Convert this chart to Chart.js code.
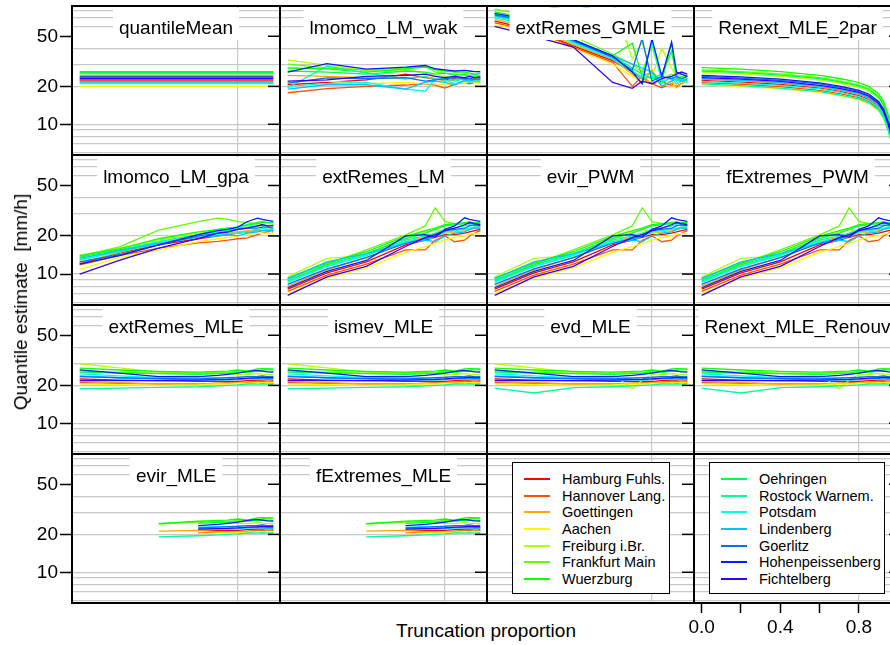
<!DOCTYPE html>
<html>
<head>
<meta charset="utf-8">
<script src="https://cdn.jsdelivr.net/npm/chart.js@4.4.1/dist/chart.umd.min.js"></script>
<style>
  body { margin: 0; width: 890px; height: 645px; overflow: hidden; background: #fff; position: relative;
         font-family: "Liberation Sans", Arial, sans-serif; color: #000; }
  canvas { position: absolute; z-index: 1; }
  .axis-title { position: absolute; z-index: 5; font-size: 19px; white-space: pre; transform: translate(-50%, -50%); }
  .legend { position: absolute; z-index: 5; top: 462px; height: 132px; box-sizing: border-box; border: 1.3px solid #000;
            background: #fff; padding-top: 8px; font-size: 14.5px; }
  .legend div { height: 16.6px; display: flex; align-items: center; white-space: nowrap; }
  .legend span.ln { display: inline-block; width: 26px; height: 2px; margin-left: 11px; margin-right: 12px; }
</style>
</head>
<body>
<div class="axis-title" style="left:486px; top:631px;">Truncation proportion</div>
<div class="axis-title" style="left:21px; top:302px; transform: translate(-50%, -50%) rotate(-90deg);">Quantile estimate  [mm/h]</div>
<div id="legendA" class="legend" style="left:512px; width:158px;"></div>
<div id="legendB" class="legend" style="left:709px; width:176px;"></div>

<script>
// x values (truncation proportion) shared by every series
const truncation = [0, 0.2, 0.4, 0.6, 0.7, 0.75, 0.8, 0.85, 0.9, 0.925, 0.95, 0.98];

const stations = ['Hamburg Fuhls.', 'Hannover Lang.', 'Goettingen', 'Aachen', 'Freiburg i.Br.',
  'Frankfurt Main', 'Wuerzburg', 'Oehringen', 'Rostock Warnem.', 'Potsdam', 'Lindenberg',
  'Goerlitz', 'Hohenpeissenberg', 'Fichtelberg'];
const stationColors = ['#FF0000', '#FF5200', '#FFA500', '#FFF700', '#B4FF00', '#62FF00', '#0FFF00',
  '#00FF43', '#00FF96', '#00FFE8', '#00C4FF', '#0071FF', '#001FFF', '#3400FF'];

const yTicks = [10, 20, 50];
const yGrid = [6, 7, 8, 9, 10, 20, 30, 40, 60, 70, 80];
const xTicks = [0, 0.2, 0.4, 0.6, 0.8, 1.0];
const xTickLabels = ['0.0', '', '0.4', '', '0.8', ''];
const xGrid = [0.8];

// one row per station, one value per truncation proportion
const quantileMean = [
  [22.4, 22.4, 22.4, 22.4, 22.4, 22.4, 22.4, 22.4, 22.4, 22.4, 22.4, 22.4],
  [22.0, 22.0, 22.0, 22.0, 22.0, 22.0, 22.0, 22.0, 22.0, 22.0, 22.0, 22.0],
  [24.3, 24.3, 24.3, 24.3, 24.3, 24.3, 24.3, 24.3, 24.3, 24.3, 24.3, 24.3],
  [20.0, 20.0, 20.0, 20.0, 20.0, 20.0, 20.0, 20.0, 20.0, 20.0, 20.0, 20.0],
  [25.6, 25.6, 25.6, 25.6, 25.6, 25.6, 25.6, 25.6, 25.6, 25.6, 25.6, 25.6],
  [25.2, 25.2, 25.2, 25.2, 25.2, 25.2, 25.2, 25.2, 25.2, 25.2, 25.2, 25.2],
  [26.2, 26.2, 26.2, 26.2, 26.2, 26.2, 26.2, 26.2, 26.2, 26.2, 26.2, 26.2],
  [25.8, 25.8, 25.8, 25.8, 25.8, 25.8, 25.8, 25.8, 25.8, 25.8, 25.8, 25.8],
  [21.2, 21.2, 21.2, 21.2, 21.2, 21.2, 21.2, 21.2, 21.2, 21.2, 21.2, 21.2],
  [21.0, 21.0, 21.0, 21.0, 21.0, 21.0, 21.0, 21.0, 21.0, 21.0, 21.0, 21.0],
  [21.6, 21.6, 21.6, 21.6, 21.6, 21.6, 21.6, 21.6, 21.6, 21.6, 21.6, 21.6],
  [22.8, 22.8, 22.8, 22.8, 22.8, 22.8, 22.8, 22.8, 22.8, 22.8, 22.8, 22.8],
  [23.8, 23.8, 23.8, 23.8, 23.8, 23.8, 23.8, 23.8, 23.8, 23.8, 23.8, 23.8],
  [23.2, 23.2, 23.2, 23.2, 23.2, 23.2, 23.2, 23.2, 23.2, 23.2, 23.2, 23.2]
];

const lmomcoWak = [
  [20.6, 21.5, 22.5, 25.0, 23.5, 23.0, 22.5, 23.0, 23.5, 23.0, 23.5, 23.5],
  [17.8, 19.2, 20.0, 20.5, 21.0, 20.5, 19.4, 20.8, 21.5, 21.0, 21.5, 21.5],
  [24.5, 24.0, 23.5, 23.0, 24.0, 23.0, 22.0, 22.5, 23.0, 22.5, 23.0, 23.2],
  [21.5, 22.0, 21.0, 21.5, 21.0, 21.0, 20.5, 21.0, 21.5, 21.5, 22.0, 22.0],
  [32.3, 29.5, 26.5, 27.0, 25.5, 24.5, 24.0, 23.5, 22.5, 22.0, 21.5, 21.5],
  [30.0, 28.0, 27.0, 28.0, 29.0, 26.0, 25.5, 25.0, 24.5, 24.0, 24.0, 24.0],
  [28.0, 27.5, 26.0, 27.5, 28.5, 27.0, 26.5, 26.0, 26.0, 25.5, 25.0, 25.5],
  [26.5, 26.0, 25.0, 26.5, 26.0, 25.0, 25.5, 24.5, 25.0, 24.5, 24.8, 24.5],
  [19.5, 29.0, 25.5, 23.0, 24.0, 22.5, 23.5, 22.0, 23.0, 22.5, 22.5, 22.5],
  [20.0, 21.0, 21.5, 19.0, 18.3, 23.0, 22.5, 21.0, 22.0, 21.5, 22.0, 21.8],
  [19.0, 20.6, 20.6, 19.0, 21.6, 22.0, 21.5, 20.5, 22.5, 22.0, 22.5, 22.5],
  [21.2, 23.4, 23.0, 23.5, 22.0, 22.5, 23.0, 23.5, 23.0, 23.0, 22.8, 22.9],
  [26.0, 30.3, 27.4, 28.4, 29.3, 27.6, 27.0, 26.5, 26.8, 26.5, 26.2, 26.2],
  [22.0, 22.5, 24.0, 24.5, 25.0, 24.0, 23.5, 24.0, 23.5, 24.0, 23.5, 23.8]
];

const extRemesGMLE = [
  [66, 56, 42, 32, 26, 23, 21, 22, 20, 21, 22, 23],
  [64, 55, 41, 31, 20, 24, 21, 19.5, 21, 20, 21, 22],
  [68, 58, 43, 33, 25, 21, 27, 20, 22, 19.5, 21, 22.5],
  [62, 54, 40, 30, 24, 22, 22, 21, 20, 21, 22, 21.5],
  [95, 90, 80, 95, 33, 45, 24, 40, 28, 24, 23, 24],
  [82, 72, 50, 36, 30, 26, 42, 23, 25, 24, 25, 24],
  [78, 68, 47, 35, 44, 24, 26, 22, 44, 23, 24, 23],
  [75, 66, 46, 35, 28, 25, 23, 25, 38, 24, 23, 24.5],
  [72, 62, 45, 33, 27, 23, 24, 21, 24, 22, 23, 22],
  [70, 61, 44, 33, 26, 24, 45, 22, 23, 21, 22, 21.5],
  [73, 64, 46, 35, 30, 28, 26, 20, 22, 23, 22, 23],
  [74, 65, 46, 34, 27, 48, 22, 24, 23, 24, 23, 24],
  [76, 67, 47, 35, 26, 21, 48, 24, 45, 26, 25, 24],
  [60, 50, 41, 21.5, 19.3, 22, 21, 23, 24, 25, 26, 25]
];

const renext2par = [
  [22.3, 21.6, 20.7, 19.4, 18.3, 17.6, 16.9, 15.8, 13.8, 12.0, 9.4, 6.2],
  [21.4, 20.8, 19.9, 18.6, 17.5, 16.9, 16.3, 15.2, 13.3, 11.6, 9.0, 6.0],
  [22.8, 22.1, 21.2, 19.8, 18.7, 18.0, 17.3, 16.2, 14.1, 12.3, 9.6, 6.4],
  [20.6, 20.0, 19.2, 17.9, 16.9, 16.3, 15.7, 14.6, 12.8, 11.1, 8.7, 5.8],
  [25.8, 25.0, 24.0, 22.4, 21.2, 20.4, 19.6, 18.3, 16.0, 13.9, 10.8, 7.2],
  [27.0, 26.2, 25.1, 23.5, 22.1, 21.3, 20.5, 19.2, 16.7, 14.6, 11.3, 7.6],
  [28.2, 27.4, 26.2, 24.5, 23.1, 22.3, 21.4, 20.0, 17.5, 15.2, 11.8, 7.9],
  [26.5, 25.7, 24.6, 23.1, 21.7, 20.9, 20.1, 18.8, 16.4, 14.3, 11.1, 7.4],
  [20.9, 20.3, 19.4, 18.2, 17.1, 16.5, 15.9, 14.8, 13.0, 11.3, 8.8, 5.9],
  [21.9, 21.2, 20.4, 19.1, 18.0, 17.3, 16.6, 15.5, 13.6, 11.8, 9.2, 6.1],
  [23.0, 22.3, 21.4, 20.0, 18.9, 18.2, 17.5, 16.3, 14.3, 12.4, 9.7, 6.4],
  [24.0, 23.3, 22.3, 20.9, 19.7, 19.0, 18.2, 17.0, 14.9, 13.0, 10.1, 6.7],
  [24.5, 23.8, 22.8, 21.3, 20.1, 19.4, 18.6, 17.4, 15.2, 13.2, 10.3, 6.9],
  [23.5, 22.8, 21.9, 20.4, 19.3, 18.6, 17.9, 16.7, 14.6, 12.7, 9.9, 6.6]
];

const lmomcoGpa = [
  [12.1, 14.6, 17.0, 19.0, 20.0, 20.5, 21.0, 21.5, 22.0, 22.0, 22.0, 22.0],
  [11.8, 14.0, 16.0, 17.6, 18.1, 18.5, 19.0, 19.3, 20.5, 21.0, 21.5, 21.8],
  [12.3, 14.8, 17.5, 20.0, 20.5, 21.0, 21.5, 22.0, 22.5, 22.0, 22.5, 22.5],
  [10.9, 13.5, 15.5, 18.0, 19.0, 19.5, 20.0, 20.5, 21.0, 21.0, 21.0, 20.5],
  [14.1, 16.0, 18.5, 21.0, 22.0, 22.5, 23.0, 23.5, 24.0, 23.5, 23.0, 21.0],
  [13.8, 16.4, 22.2, 25.9, 27.6, 27.0, 25.9, 25.5, 25.0, 24.5, 24.0, 24.5],
  [14.0, 15.8, 19.0, 21.5, 22.5, 23.0, 23.5, 24.5, 25.0, 25.5, 25.5, 25.5],
  [13.6, 15.5, 18.0, 20.5, 22.5, 23.0, 23.5, 24.5, 25.5, 26.0, 25.5, 25.5],
  [13.0, 15.0, 17.5, 20.5, 21.5, 22.0, 23.0, 23.5, 24.0, 24.5, 24.0, 24.0],
  [12.8, 15.2, 18.0, 20.0, 20.5, 21.0, 21.0, 21.5, 22.0, 23.0, 22.5, 22.5],
  [13.3, 15.3, 17.5, 19.5, 20.0, 20.5, 20.0, 21.0, 21.5, 22.0, 22.0, 22.0],
  [12.5, 14.2, 17.0, 20.0, 21.0, 21.5, 22.5, 23.0, 23.0, 23.5, 23.5, 23.0],
  [12.0, 14.0, 17.0, 20.5, 22.0, 22.5, 23.5, 26.0, 27.6, 27.0, 26.5, 26.0],
  [10.0, 12.8, 16.0, 19.0, 21.0, 21.5, 22.5, 23.0, 24.0, 24.5, 24.0, 24.0]
];

// extRemes_LM, evir_PWM and fExtremes_PWM give practically the same curves
const pwmFits = [
  [7.6, 10.2, 12.5, 17.0, 18.5, 19.5, 20.5, 20.5, 21.0, 21.5, 22.0, 22.5],
  [7.3, 9.8, 12.0, 15.5, 15.5, 18.5, 20.0, 18.0, 18.5, 20.0, 21.0, 22.0],
  [8.0, 10.8, 13.5, 18.0, 19.5, 20.5, 21.0, 21.5, 22.0, 22.5, 23.0, 23.0],
  [7.0, 9.3, 11.2, 14.8, 16.5, 17.5, 18.5, 19.5, 20.0, 20.5, 21.0, 20.8],
  [9.5, 13.3, 14.0, 19.5, 21.5, 22.5, 21.0, 22.0, 23.0, 22.5, 23.5, 24.0],
  [9.0, 12.0, 15.5, 20.4, 24.0, 33.3, 26.0, 25.0, 25.5, 26.0, 25.0, 25.5],
  [9.3, 12.2, 15.0, 19.8, 22.0, 23.0, 24.5, 25.0, 25.5, 25.0, 25.5, 25.5],
  [8.8, 11.8, 14.5, 19.0, 21.0, 22.5, 24.0, 24.5, 25.0, 25.5, 25.0, 25.0],
  [9.0, 11.5, 14.0, 18.5, 20.0, 21.0, 22.5, 23.0, 24.0, 24.5, 24.0, 24.2],
  [8.6, 11.5, 14.2, 18.0, 19.0, 19.5, 21.5, 22.0, 22.5, 23.0, 23.5, 23.5],
  [9.2, 12.5, 14.5, 17.5, 18.5, 18.0, 20.0, 21.0, 21.5, 22.5, 23.0, 23.0],
  [8.3, 11.0, 13.5, 17.5, 19.0, 20.0, 22.0, 22.5, 23.0, 24.0, 24.5, 24.0],
  [7.8, 10.5, 12.8, 20.0, 20.5, 19.5, 22.5, 24.0, 27.8, 27.0, 26.5, 26.0],
  [6.8, 9.5, 11.5, 16.5, 19.5, 20.5, 22.0, 23.0, 24.5, 25.5, 25.0, 24.5]
];

// extRemes_MLE and ismev_MLE
const mleFits = [
  [22.5, 22.0, 21.8, 21.5, 21.5, 21.5, 21.5, 21.8, 22.0, 22.0, 22.2, 22.0],
  [21.0, 20.8, 20.5, 20.5, 20.8, 21.0, 21.0, 21.2, 21.5, 21.5, 21.3, 21.5],
  [21.5, 21.0, 20.5, 20.5, 20.8, 20.8, 21.0, 21.0, 21.2, 21.0, 21.3, 21.2],
  [20.6, 20.3, 20.0, 20.2, 20.5, 20.5, 20.7, 20.8, 21.0, 21.0, 21.0, 21.0],
  [29.7, 27.5, 25.5, 25.0, 25.0, 24.8, 24.5, 24.5, 24.8, 24.6, 24.5, 24.5],
  [26.0, 25.5, 25.0, 25.0, 25.3, 25.0, 26.0, 25.5, 26.0, 26.5, 26.8, 26.8],
  [27.4, 26.5, 25.8, 25.5, 25.8, 26.0, 26.5, 26.0, 27.0, 27.2, 27.0, 27.0],
  [25.5, 25.0, 24.8, 24.5, 24.8, 25.0, 25.2, 25.5, 25.8, 26.0, 26.0, 25.8],
  [18.8, 19.0, 19.3, 19.5, 19.8, 20.0, 20.2, 20.5, 20.5, 20.6, 20.5, 20.6],
  [24.7, 23.8, 23.0, 22.8, 23.0, 23.0, 22.8, 22.5, 22.8, 22.5, 22.6, 22.5],
  [23.8, 23.0, 22.5, 22.0, 22.2, 22.0, 22.2, 22.5, 22.6, 22.5, 22.4, 22.4],
  [23.5, 23.0, 22.6, 22.5, 22.8, 23.0, 23.2, 23.5, 23.6, 23.8, 23.5, 23.6],
  [26.6, 25.0, 23.5, 23.5, 24.0, 24.5, 25.0, 25.8, 26.3, 26.0, 25.6, 25.5],
  [21.9, 21.8, 21.8, 22.0, 22.2, 22.3, 22.5, 22.8, 23.0, 23.2, 23.0, 23.0]
];

const evdMLE = [
  [22.5, 22.0, 21.8, 21.5, 21.5, 21.5, 21.5, 21.8, 22.0, 22.0, 22.2, 22.0],
  [21.0, 20.8, 20.5, 20.5, 20.8, 21.0, 21.0, 21.2, 21.5, 21.5, 21.3, 21.5],
  [21.5, 21.0, 20.5, 20.5, 20.8, 20.8, 21.0, 21.0, 21.2, 21.0, 21.3, 21.2],
  [20.6, 20.3, 20.0, 20.2, 20.5, 20.5, 20.7, 20.8, 21.0, 21.0, 21.0, 21.0],
  [29.7, 27.5, 25.5, 24.5, 18.8, 22.0, 24.5, 24.5, 24.8, 24.6, 24.5, 24.5],
  [26.0, 25.5, 25.0, 25.0, 25.3, 25.0, 26.0, 25.5, 26.0, 26.5, 26.8, 26.8],
  [27.4, 26.5, 25.8, 25.5, 25.8, 26.0, 26.5, 26.0, 27.0, 27.2, 27.0, 27.0],
  [25.5, 25.0, 24.8, 24.5, 24.8, 25.0, 25.2, 25.5, 25.8, 26.0, 26.0, 25.8],
  [19.0, 17.4, 19.2, 19.5, 19.8, 20.0, 20.2, 20.5, 20.5, 20.6, 20.5, 20.6],
  [24.7, 23.8, 23.0, 22.8, 23.0, 23.0, 22.8, 22.5, 22.8, 22.5, 22.6, 22.5],
  [23.8, 23.0, 22.5, 22.0, 22.2, 22.0, 22.2, 22.5, 22.6, 22.5, 22.4, 22.4],
  [23.5, 23.0, 22.6, 22.5, 22.8, 23.0, 23.2, 23.5, 23.6, 23.8, 23.5, 23.6],
  [26.6, 25.0, 23.5, 23.5, 24.0, 24.5, 25.0, 25.8, 26.3, 26.0, 25.6, 25.5],
  [21.9, 21.8, 21.8, 22.0, 22.2, 22.3, 22.5, 22.8, 23.0, 23.2, 23.0, 23.0]
];

const renextRenouv = [
  [22.5, 22.0, 21.8, 21.5, 21.5, 21.5, 21.5, 21.8, 22.0, 22.0, 22.2, 22.0],
  [21.0, 20.8, 20.5, 20.5, 20.8, 21.0, 21.0, 21.2, 21.5, 21.5, 21.3, 21.5],
  [21.5, 21.0, 20.5, 20.5, 20.8, 20.8, 21.0, 21.0, 21.2, 21.0, 21.3, 21.2],
  [20.6, 20.3, 20.0, 20.2, 20.5, 20.5, 20.7, 20.8, 21.0, 21.0, 21.0, 21.0],
  [25.2, 25.0, 24.8, 24.5, 18.8, 22.0, 24.5, 24.5, 24.8, 24.6, 24.5, 24.5],
  [26.0, 25.5, 25.0, 25.0, 25.3, 25.0, 26.0, 25.5, 26.0, 26.5, 26.8, 26.8],
  [27.4, 26.5, 25.8, 25.5, 25.8, 26.0, 26.5, 26.0, 27.0, 27.2, 27.0, 27.0],
  [25.5, 25.0, 24.8, 24.5, 24.8, 25.0, 25.2, 25.5, 25.8, 26.0, 26.0, 25.8],
  [19.0, 17.4, 19.2, 19.5, 19.8, 20.0, 20.2, 20.5, 20.5, 20.6, 20.5, 20.6],
  [24.7, 23.8, 23.0, 22.8, 23.0, 23.0, 22.8, 22.5, 22.8, 22.5, 22.6, 22.5],
  [23.8, 23.0, 22.5, 22.0, 22.2, 22.0, 22.2, 22.5, 22.6, 22.5, 22.4, 22.4],
  [23.5, 23.0, 22.6, 22.5, 22.8, 23.0, 23.2, 23.5, 23.6, 23.8, 23.5, 23.6],
  [26.6, 25.0, 23.5, 23.5, 24.0, 24.5, 25.0, 25.8, 26.3, 26.0, 25.6, 25.5],
  [21.9, 21.8, 21.8, 22.0, 22.2, 22.3, 22.5, 22.8, 23.0, 23.2, 23.0, 23.0]
];

// evir_MLE and fExtremes_MLE only converge for larger truncation
const evirMLE = [
  [null, null, null, 21.5, 21.5, 21.5, 21.5, 21.8, 22.0, 22.0, 22.2, 22.0],
  [null, null, null, 20.5, 20.8, 21.0, 21.0, 21.2, 21.5, 21.5, 21.3, 21.5],
  [null, null, 21.2, 21.5, 21.0, 21.0, 21.0, 21.0, 21.2, 21.0, 21.3, 21.2],
  [null, null, null, 20.2, 20.5, 20.5, 20.7, 20.8, 21.0, 21.0, 21.0, 21.0],
  [null, null, null, 25.0, 25.0, 24.8, 24.5, 24.5, 24.8, 24.6, 24.5, 24.5],
  [null, null, 24.3, 25.0, 25.3, 25.0, 26.0, 25.5, 26.0, 26.5, 26.8, 26.8],
  [null, null, 24.3, 25.5, 25.8, 26.0, 26.5, 26.0, 27.0, 27.2, 27.0, 27.0],
  [null, null, null, 24.5, 24.8, 25.0, 25.2, 25.5, 25.8, 26.0, 26.0, 25.8],
  [null, null, 19.1, 19.5, 19.8, 20.0, 20.2, 20.5, 20.5, 20.6, 20.5, 20.6],
  [null, null, null, 22.8, 23.0, 23.0, 22.8, 22.5, 22.8, 22.5, 22.6, 22.5],
  [null, null, null, 22.0, 22.2, 22.0, 22.2, 22.5, 22.6, 22.5, 22.4, 22.4],
  [null, null, null, 22.5, 22.8, 23.0, 23.2, 23.5, 23.6, 23.8, 23.5, 23.6],
  [null, null, null, 23.5, 24.0, 24.5, 25.0, 25.8, 26.3, 26.0, 25.6, 25.5],
  [null, null, null, 22.0, 22.2, 22.3, 22.5, 22.8, 23.0, 23.2, 23.0, 23.0]
];

const panels = [
  ['quantileMean', quantileMean], ['lmomco_LM_wak', lmomcoWak], ['extRemes_GMLE', extRemesGMLE], ['Renext_MLE_2par', renext2par],
  ['lmomco_LM_gpa', lmomcoGpa], ['extRemes_LM', pwmFits], ['evir_PWM', pwmFits], ['fExtremes_PWM', pwmFits],
  ['extRemes_MLE', mleFits], ['ismev_MLE', mleFits], ['evd_MLE', evdMLE], ['Renext_MLE_Renouv', renextRenouv],
  ['evir_MLE', evirMLE], ['fExtremes_MLE', evirMLE], [null, null], [null, null]
];

// panel grid on the page
const colLeft = [72, 280, 487, 694];
const colWidth = [208, 207, 207, 207];
const rowTop = [6, 155, 305, 454];
const rowHeight = [149, 150, 149, 149];
const xMin = -0.039, xMax = 1.014;
const yMin = 5.7, yMax = 87;

const FONT = '"Liberation Sans", Arial, sans-serif';
Chart.defaults.font.family = FONT;
Chart.defaults.color = '#000';

const panelDecor = {
  id: 'panelDecor',
  afterDatasetsDraw(chart, args, opts) {
    const { ctx, chartArea: a } = chart;
    const ys = chart.scales.y;
    ctx.save();
    ctx.strokeStyle = '#000';
    ctx.lineWidth = 1.5;
    yTicks.forEach(v => {
      const py = ys.getPixelForValue(v);
      ctx.beginPath();
      ctx.moveTo(a.right - 12, py);
      ctx.lineTo(a.right, py);
      ctx.stroke();
    });
    if (opts.title) {
      ctx.font = '19px ' + FONT;
      const w = ctx.measureText(opts.title).width;
      const cx = (a.left + a.right) / 2;
      ctx.fillStyle = '#fff';
      ctx.fillRect(cx - w / 2 - 6, a.top + 2, w + 12, 32);
      ctx.fillStyle = '#000';
      ctx.textAlign = 'center';
      ctx.textBaseline = 'alphabetic';
      ctx.fillText(opts.title, cx, a.top + 27.5);
    }
    ctx.lineWidth = 2;
    ctx.strokeRect(a.left, a.top, a.right - a.left, a.bottom - a.top);
    ctx.restore();
  }
};

function gridAxis(axis) {
  const isX = axis === 'x';
  return {
    type: isX ? 'linear' : 'logarithmic',
    axis: axis,
    min: isX ? xMin : yMin,
    max: isX ? xMax : yMax,
    afterBuildTicks: s => { s.ticks = (isX ? xGrid : yGrid).map(v => ({ value: v })); },
    grid: { color: '#c8c8c8', lineWidth: 1.2, drawTicks: false },
    ticks: { display: false },
    border: { display: false }
  };
}

panels.forEach(([title, values], i) => {
  const r = Math.floor(i / 4), c = i % 4;
  const firstCol = c === 0;
  const xAxisPanel = r === 3 && c === 3;
  const pad = { left: firstCol ? 0 : (xAxisPanel ? 20 : 2), right: 2,
                top: firstCol ? 16 : 2, bottom: xAxisPanel ? 0 : (firstCol ? 16 : 2) };
  const extraLeft = firstCol ? 72 : pad.left;
  const extraBottom = xAxisPanel ? 42 : pad.bottom;

  const canvas = document.createElement('canvas');
  canvas.width = colWidth[c] + extraLeft + pad.right;
  canvas.height = rowHeight[r] + pad.top + extraBottom;
  canvas.style.left = (colLeft[c] - extraLeft) + 'px';
  canvas.style.top = (rowTop[r] - pad.top) + 'px';
  document.body.appendChild(canvas);

  const scales = { x: gridAxis('x'), y: gridAxis('y') };
  if (firstCol) {
    scales.yl = {
      type: 'logarithmic', axis: 'y', position: 'left', min: yMin, max: yMax,
      afterBuildTicks: s => { s.ticks = yTicks.map(v => ({ value: v })); },
      afterFit: s => { s.width = 72; },
      ticks: { font: { size: 19 }, padding: 2, callback: v => String(v) },
      grid: { drawOnChartArea: false, tickLength: 12, tickColor: '#000', tickWidth: 1.5 },
      border: { display: false }
    };
  }
  if (xAxisPanel) {
    scales.xl = {
      type: 'linear', axis: 'x', position: 'bottom', min: xMin, max: xMax,
      afterBuildTicks: s => { s.ticks = xTicks.map(v => ({ value: v })); },
      afterFit: s => { s.height = 42; },
      ticks: { font: { size: 19 }, padding: 3, autoSkip: false, maxRotation: 0,
               callback: (v, k) => xTickLabels[k] },
      grid: { drawOnChartArea: false, tickLength: 10, tickColor: '#000', tickWidth: 1.5 },
      border: { display: false }
    };
  }

  const datasets = values ? values.map((vals, s) => ({
    label: stations[s],
    data: vals.map((v, k) => ({ x: truncation[k], y: v })),
    borderColor: stationColors[s],
    borderWidth: 1.3,
    pointRadius: 0,
    tension: 0,
    fill: false,
    order: stations.length - s
  })) : [];

  new Chart(canvas, {
    type: 'line',
    data: { datasets },
    options: {
      responsive: false,
      animation: false,
      events: [],
      layout: { padding: pad },
      scales,
      plugins: { legend: { display: false }, tooltip: { enabled: false }, panelDecor: { title } }
    },
    plugins: [panelDecor]
  });
});

// legend boxes in the two empty panels
function fillLegend(id, from, to) {
  const box = document.getElementById(id);
  for (let s = from; s < to; s++) {
    const row = document.createElement('div');
    const ln = document.createElement('span');
    ln.className = 'ln';
    ln.style.background = stationColors[s];
    row.appendChild(ln);
    row.appendChild(document.createTextNode(stations[s]));
    box.appendChild(row);
  }
}
fillLegend('legendA', 0, 7);
fillLegend('legendB', 7, 14);
</script>
</body>
</html>
